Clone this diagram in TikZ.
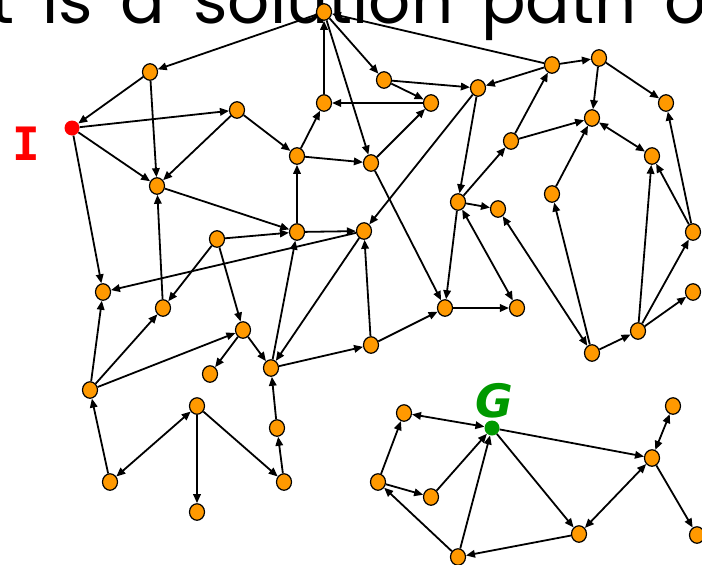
\documentclass[tikz,border=0pt]{standalone}
\usepackage{fontspec}
\usetikzlibrary{arrows.meta,shapes.geometric}
\newfontfamily\titlefont{Poppins}
\newfontfamily\monofnt{DejaVu Sans Mono}
\newfontfamily\gfont{DejaVu Sans}
\definecolor{nodeorange}{RGB}{255,153,0}
\definecolor{startred}{RGB}{255,0,0}
\definecolor{goalgreen}{RGB}{0,153,0}
\begin{document}
\begin{tikzpicture}[x=1pt,y=-1pt,
 vtx/.style={ellipse,draw=black,fill=nodeorange,line width=1.2pt,minimum width=15pt,minimum height=16.5pt,inner sep=0pt},
 startv/.style={circle,fill=startred,minimum size=15pt,inner sep=0pt},
 goalv/.style={circle,fill=goalgreen,minimum size=15pt,inner sep=0pt},
 arr/.style={line width=1.8pt,-{Triangle[length=9pt,width=7.5pt]}},
 arrb/.style={line width=1.8pt,{Triangle[length=9pt,width=7.5pt]}-{Triangle[length=9pt,width=7.5pt]}}]
\useasboundingbox (0,0) rectangle (702,565);
\clip (0,0) rectangle (702,565);
\fill[white] (0,0) rectangle (702,565);
\node[anchor=base west,inner sep=0pt,font=\titlefont\fontsize{66}{66}\selectfont] (title) at (-10,23) {\spaceskip=28pt t is a solution path o};
\node[text=startred,font=\monofnt\bfseries\fontsize{46}{46}\selectfont,inner sep=0pt] (ilabel) at (26,144) {I};
\node[text=goalgreen,font=\gfont\bfseries\itshape\fontsize{46}{46}\selectfont,inner sep=0pt] (glabel) at (494,401) {G};
% nodes
\node[startv] (I) at (72,128) {};
\node[goalv] (G) at (492,428) {};
\foreach \n/\x/\y in {A1/150/72, A2/237/110, A3/157/186, T/324/12, B1/384/80, B2/431/103, B3/324/103, B4/297/156, B5/371/163,
 C1/478/88, C2/552/65, C3/599/58, C4/666/103, C5/592/118, C6/511/141, C7/652/156, C8/552/194, D1/458/202, D2/498/209,
 E1/217/239, E2/297/232, E3/364/231, F1/103/292, F2/163/308, F3/243/330, F4/210/374, F5/271/368, F6/371/345,
 G1/445/308, G2/517/308, H1/693/232, H2/693/292, H3/638/331, H4/592/353,
 J1/90/390, J2/197/406, J3/110/482, J4/197/512, J5/277/428, J6/284/482,
 K1/404/413, K2/378/482, K3/431/497, K4/458/557, K5/579/534, K6/652/458, K7/673/406, K8/697/535}
 {\node[vtx] (\n) at (\x,\y) {};}
% directed edges
\foreach \a/\b in {T/A1, A1/I, I/A2, I/A3, A1/A3, A2/A3, I/F1, A2/B4, A3/E2, F2/A3,
 T/B1, C2/T, T/B5, B3/T, B1/C1, B1/B2, B2/B3, B4/B3, B4/B5, B5/B2, E2/B4, B5/G1,
 C1/E3, C1/D1, D1/C6, C2/C1, C2/C3, C6/C2, C3/C5, C3/C4, C6/C5, C8/C5, H1/C4, H3/C7, H1/C7,
 D1/D2, D1/G1, G1/G2, H4/C8, H4/H3, H3/H1, H3/H2,
 E1/E2, E2/E3, E3/F1, E3/F5, F5/E2, F5/F6, F6/E3, F6/G1, F3/F5, E1/F3, J1/F3, E1/F2,
 J1/F1, J1/F2, F3/F4, J3/J1, J2/J4, J2/J6, J5/F5, J6/J5,
 K2/K1, K2/K3, K4/K2, K3/G, K4/G, K5/K4, G/K6, G/K5, K6/K8}
 {\draw[arr] (\a) -- (\b);}
% two-way edges
\foreach \a/\b in {C5/C7, D1/G2, D2/H4, J2/J3, K1/G, K6/K5, K6/K7}
 {\draw[arrb] (\a) -- (\b);}
\end{tikzpicture}
\end{document}
